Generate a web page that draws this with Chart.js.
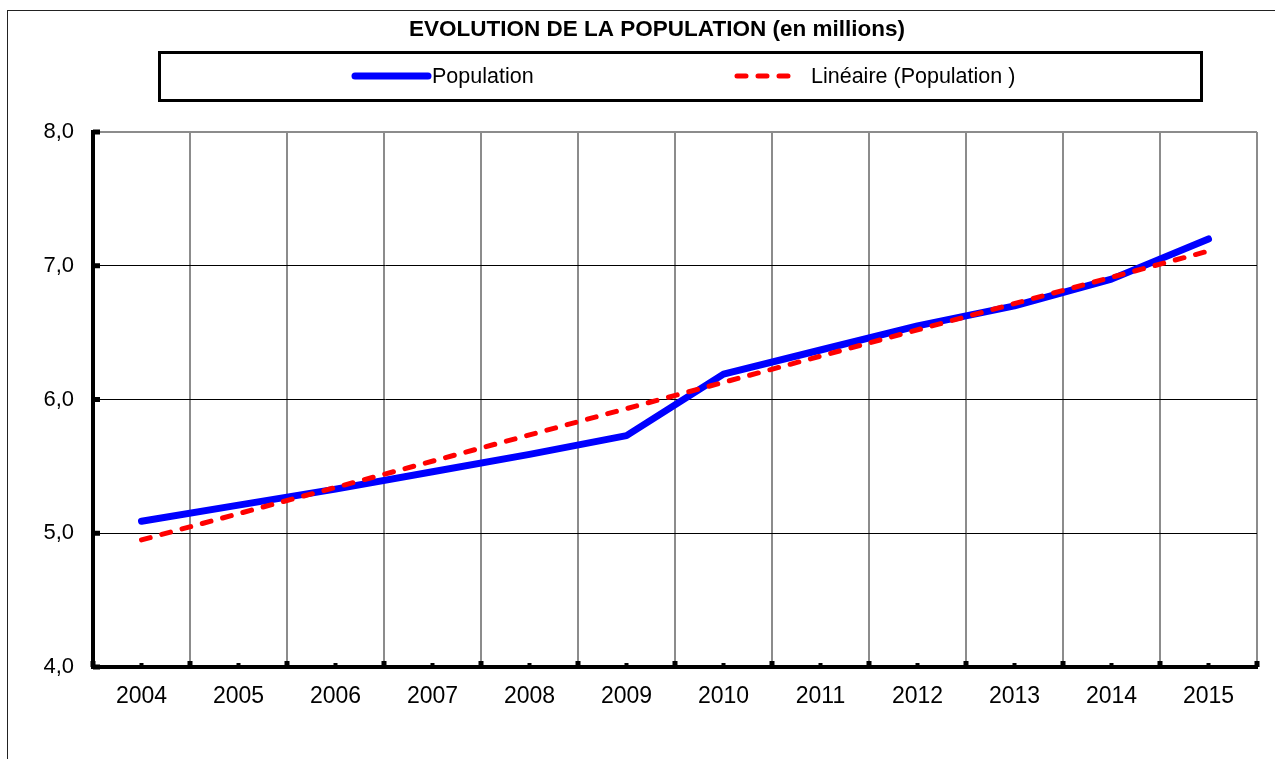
<!DOCTYPE html>
<html>
<head>
<meta charset="utf-8">
<script src="https://cdn.jsdelivr.net/npm/chart.js@4.4.1/dist/chart.umd.min.js"></script>
<style>
    html, body { margin: 0; padding: 0; background: #fff; }
</style>
</head>
<body>
<canvas id="popChart" width="1275" height="759"></canvas>
<script>
// données
const years = ['2004', '2005', '2006', '2007', '2008', '2009', '2010', '2011', '2012', '2013', '2014', '2015'];
const population = [5.09, 5.21, 5.33, 5.46, 5.59, 5.73, 6.19, 6.37, 6.55, 6.70, 6.90, 7.20];
// tendance linéaire : extrémités seulement
const trend = [4.95, null, null, null, null, null, null, null, null, null, null, 7.11];
const yTicks = [4, 5, 6, 7, 8];

const FONT = '"Liberation Sans", Arial, sans-serif';

// cadre, titre, légende et petites graduations
const decorPlugin = {
    id: 'decor',
    beforeDraw(chart) {
        const ctx = chart.ctx;
        ctx.save();
        ctx.strokeStyle = '#222';
        ctx.lineWidth = 1;
        ctx.strokeRect(7.5, 10.5, 1400, 900);
        ctx.restore();
    },
    afterDraw(chart) {
        const ctx = chart.ctx;
        const area = chart.chartArea;
        const x = chart.scales.x;
        const y = chart.scales.y;
        ctx.save();

        // titre
        ctx.fillStyle = '#000';
        ctx.font = 'bold 22.5px ' + FONT;
        ctx.textAlign = 'center';
        ctx.textBaseline = 'middle';
        ctx.fillText('EVOLUTION DE LA POPULATION (en millions)', 657, 30);

        // légende
        ctx.strokeStyle = '#000';
        ctx.lineWidth = 3;
        ctx.strokeRect(159.5, 52.5, 1042, 48);
        const items = [
            { x1: 355, x2: 428, tx: 432 },
            { x1: 737, x2: 797, tx: 811 }
        ];
        chart.data.datasets.forEach(function (ds, i) {
            const it = items[i];
            ctx.beginPath();
            ctx.strokeStyle = ds.borderColor;
            ctx.lineWidth = ds.borderWidth;
            ctx.lineCap = 'round';
            ctx.setLineDash(ds.borderDash || []);
            ctx.moveTo(it.x1, 76);
            ctx.lineTo(it.x2, 76);
            ctx.stroke();
            ctx.setLineDash([]);
            ctx.fillStyle = '#000';
            ctx.font = '21.5px ' + FONT;
            ctx.textAlign = 'left';
            ctx.fillText(ds.label, it.tx, 77);
        });

        // graduations internes de l'axe X
        ctx.fillStyle = '#000';
        const n = x.ticks.length;
        for (let i = 0; i < n; i++) {
            const cx = x.getPixelForTick(i);
            ctx.fillRect(cx - 2, area.bottom - 4, 4, 4);
        }
        for (let i = 0; i <= n; i++) {
            let bx;
            if (i === 0) bx = area.left;
            else if (i === n) bx = area.right;
            else bx = (x.getPixelForTick(i - 1) + x.getPixelForTick(i)) / 2;
            ctx.fillRect(bx - 2.5, area.bottom - 6, 5, 6);
        }
        // graduations de l'axe Y
        y.ticks.forEach(function (t) {
            const py = y.getPixelForValue(t.value);
            ctx.fillRect(area.left, py - 2.5, 7, 5);
        });
        ctx.restore();
    }
};

const ctx = document.getElementById('popChart').getContext('2d');
const popChart = new Chart(ctx, {
    type: 'line',
    data: {
        labels: years,
        datasets: [{
            label: 'Population',
            data: population,
            borderColor: '#0000ff',
            borderWidth: 7,
            borderCapStyle: 'round',
            borderJoinStyle: 'round',
            pointRadius: 0,
            tension: 0,
            fill: false,
            order: 1
        }, {
            label: 'Linéaire (Population )',
            data: trend,
            borderColor: '#ff0000',
            borderWidth: 5,
            borderDash: [9, 12],
            borderCapStyle: 'round',
            pointRadius: 0,
            tension: 0,
            spanGaps: true,
            fill: false,
            order: 0
        }]
    },
    options: {
        responsive: false,
        animation: false,
        layout: { padding: { top: 132, right: 18, bottom: 0, left: 0 } },
        plugins: {
            legend: { display: false },
            title: { display: false },
            tooltip: { enabled: false }
        },
        scales: {
            x: {
                offset: true,
                grid: {
                    offset: true,
                    color: '#8c8c8c',
                    lineWidth: 2,
                    drawTicks: false
                },
                border: { display: true, color: '#000', width: 4 },
                ticks: {
                    color: '#000',
                    font: { family: FONT, size: 23 },
                    padding: 16,
                    maxRotation: 0,
                    autoSkip: false
                },
                afterFit(scale) { scale.height = 92; }
            },
            y: {
                min: 4,
                max: 8,
                afterBuildTicks(scale) {
                    scale.ticks = yTicks.map(v => ({ value: v }));
                },
                grid: {
                    color: c => (c.tick && c.tick.value === 8) ? '#8c8c8c' : '#000',
                    lineWidth: c => (c.tick && c.tick.value === 8) ? 2 : 1,
                    drawTicks: false
                },
                border: { display: true, color: '#000', width: 4 },
                ticks: {
                    color: '#000',
                    font: { family: FONT, size: 22 },
                    padding: 19,
                    callback: v => v.toFixed(1).replace('.', ',')
                },
                afterFit(scale) { scale.width = 93; }
            }
        }
    },
    plugins: [decorPlugin]
});
</script>
</body>
</html>
